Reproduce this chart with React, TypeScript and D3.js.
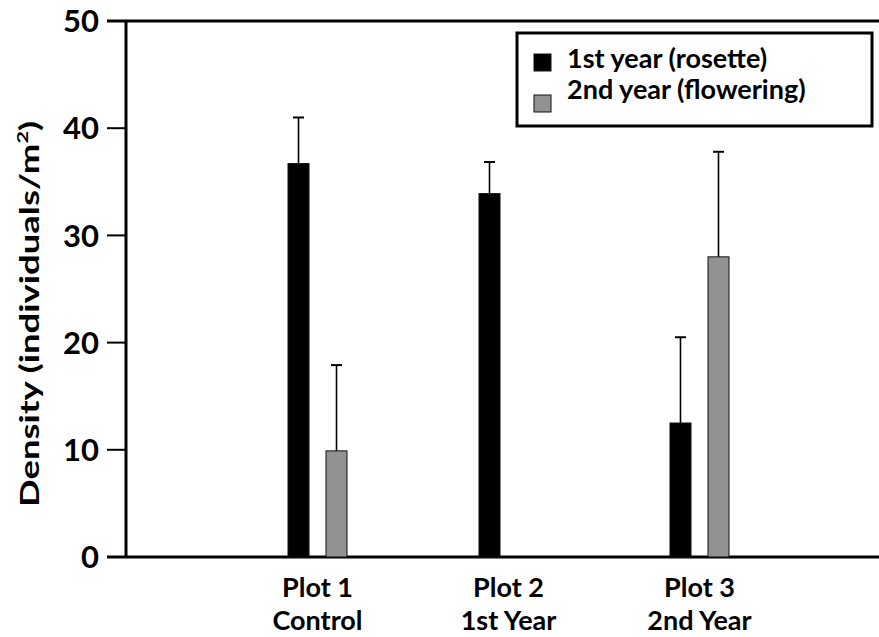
import React from 'react';
import * as d3 from 'd3';

const plots = ['Plot 1', 'Plot 2', 'Plot 3'];
const plotSubs = ['Control', '1st Year', '2nd Year'];
const seriesNames = ['1st year (rosette)', '2nd year (flowering)'];
const rosette = [36.7, 33.9, 12.5];
const rosetteErr = [4.3, 2.95, 8.0];
const flowering = [9.9, null, 28.0];
const floweringErr = [8.0, null, 9.8];
const yTicks = [0, 10, 20, 30, 40, 50];

const W = 879;
const H = 637;
const FONT = 'Lato, "Open Sans", sans-serif';
const colors = ['#000000', '#929292'];

export default function App() {
  const y = d3.scaleLinear().domain([0, 50]).range([557, 21]);
  const axisX = 126;
  const tickLeft = 107;

  const x0 = d3.scaleBand<string>().domain(plots).range([288, 729]).paddingInner(0.691).paddingOuter(0);
  const x1 = d3.scaleBand<string>().domain(seriesNames).range([0, x0.bandwidth()]).paddingInner(0.447);

  const rows = plots.map((p, i) => [
    { s: seriesNames[0], v: rosette[i], e: rosetteErr[i], c: colors[0] },
    { s: seriesNames[1], v: flowering[i], e: floweringErr[i], c: colors[1] },
  ]);

  return (
    <div style={{ position: 'fixed', left: 0, top: 0 }}>
      <svg width={W} height={H} style={{ display: 'block', background: '#fff' }} fontFamily={FONT}>
        {/* frame lines */}
        <line x1={tickLeft} x2={W} y1={y(50)} y2={y(50)} stroke="#000" strokeWidth={3} />
        <line x1={tickLeft} x2={W} y1={y(0)} y2={y(0)} stroke="#000" strokeWidth={3} />
        <line x1={axisX} x2={axisX} y1={y(50)} y2={y(0)} stroke="#000" strokeWidth={3} />

        {yTicks.map(t => (
          <g key={t}>
            <line x1={tickLeft} x2={axisX} y1={y(t)} y2={y(t)} stroke="#000" strokeWidth={2} />
            <text x={99} y={y(t)} dy="0.36em" textAnchor="end" fontSize={31} fontWeight={700}>{t}</text>
          </g>
        ))}

        <text
          transform={`translate(39,314) rotate(-90)`}
          textAnchor="middle"
          fontSize={27}
          fontWeight={700}
          textLength={386}
          lengthAdjust="spacingAndGlyphs"
        >
          Density (individuals/m<tspan fontSize={16} dy={-11}>2</tspan><tspan dy={11}>)</tspan>
        </text>

        {rows.map((r, i) => (
          <g key={plots[i]} transform={`translate(${x0(plots[i])},0)`}>
            {r.map(d => {
              if (d.v == null) return null;
              const bx = x1(d.s)!;
              const cx = bx + x1.bandwidth() / 2;
              const top = y(d.v);
              const et = y(d.v + (d.e || 0));
              return (
                <g key={d.s}>
                  <line x1={cx} x2={cx} y1={top} y2={et} stroke="#000" strokeWidth={1.6} />
                  <line x1={cx - 5.5} x2={cx + 5.5} y1={et} y2={et} stroke="#000" strokeWidth={2} />
                  <rect x={bx} y={top} width={x1.bandwidth()} height={y(0) - top} fill={d.c} stroke="#111" strokeWidth={1} />
                </g>
              );
            })}
          </g>
        ))}

        {plots.map((p, i) => {
          const cx = x0(p)! + x0.bandwidth() / 2;
          return (
            <g key={p}>
              <text x={cx} y={597} textAnchor="middle" fontSize={27} fontWeight={700}>{p}</text>
              <text x={cx} y={630} textAnchor="middle" fontSize={27} fontWeight={700}>{plotSubs[i]}</text>
            </g>
          );
        })}

        {/* legend */}
        <rect x={517} y={33} width={355} height={93} fill="#fff" stroke="#000" strokeWidth={3} />
        {seriesNames.map((s, i) => (
          <g key={s}>
            <rect x={534} y={54 + i * 41} width={17} height={17} fill={colors[i]} stroke="#111" strokeWidth={1} />
            <text x={567} y={68 + i * 31} fontSize={27} fontWeight={700}>{s}</text>
          </g>
        ))}
      </svg>
    </div>
  );
}
